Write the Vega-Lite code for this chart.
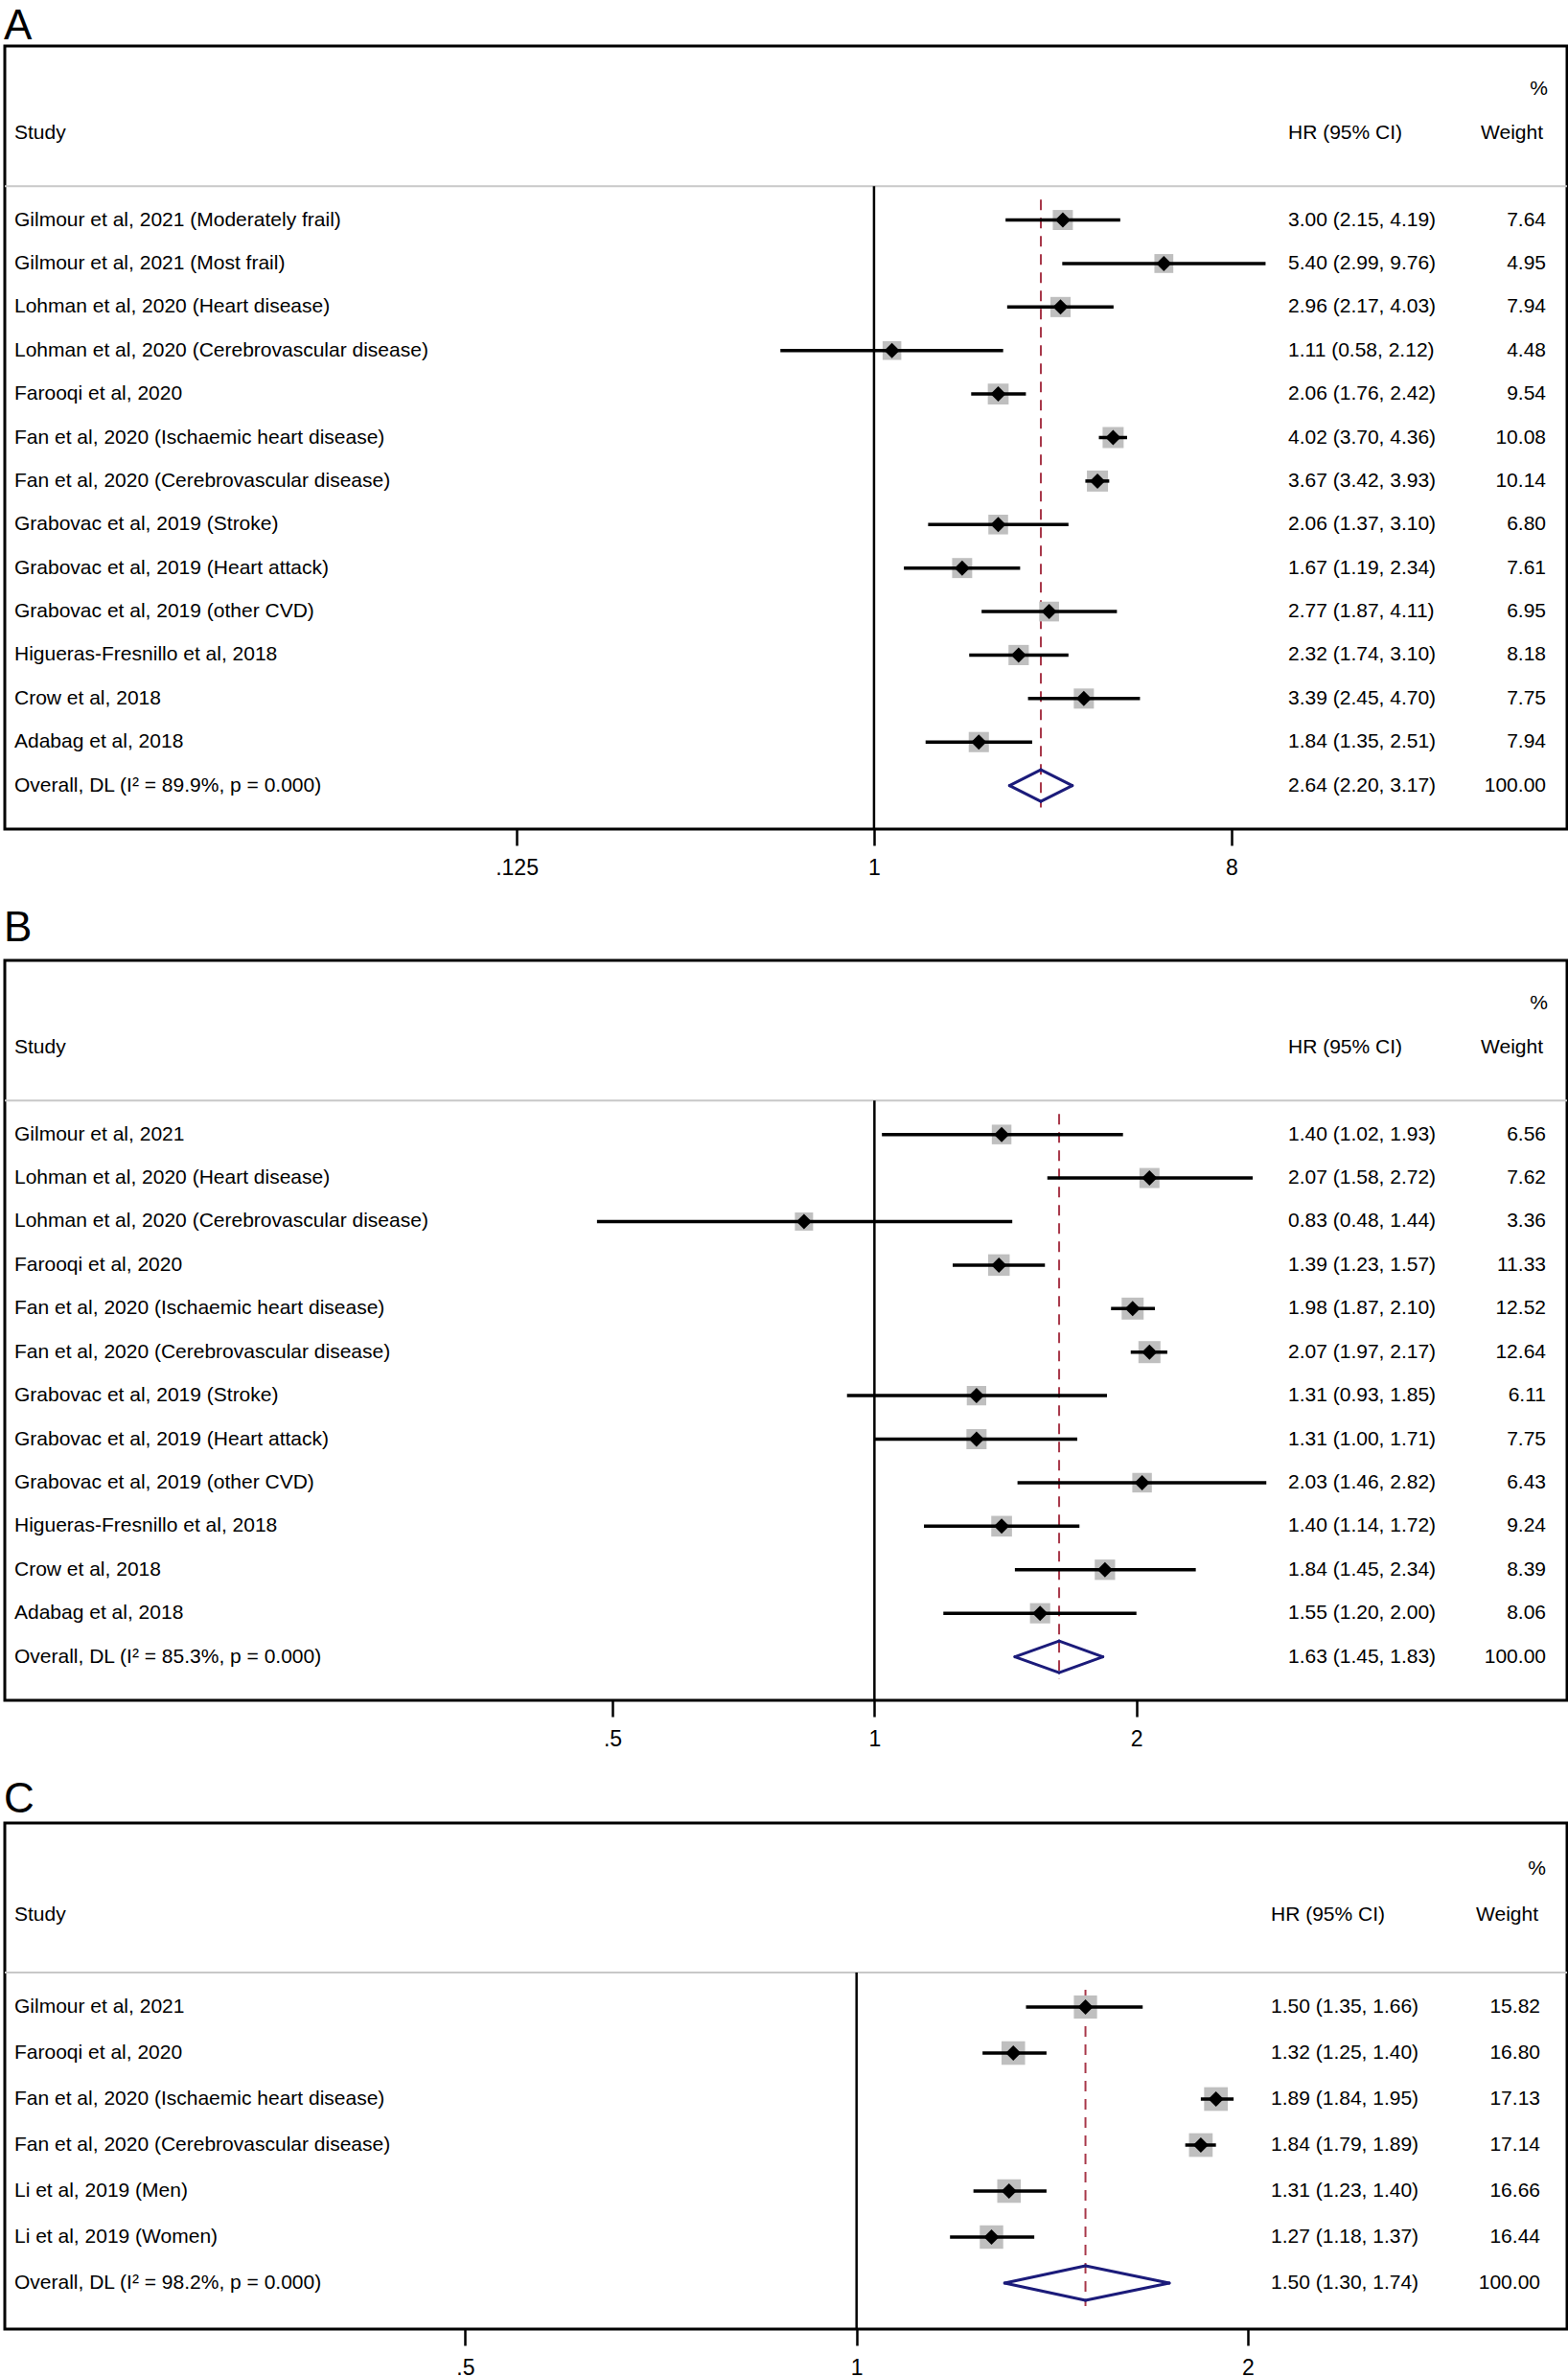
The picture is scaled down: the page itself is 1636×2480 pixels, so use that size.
{
 "$schema": "https://vega.github.io/schema/vega-lite/v6.json",
 "padding": {"left": 2, "right": 0, "top": 4, "bottom": 0},
 "background": "white",
 "spacing": 26,
 "config": {
  "view": {"stroke": "black", "strokeWidth": 3},
  "font": "Liberation Sans",
  "title": {"fontSize": 44, "font": "Liberation Sans", "fontWeight": "normal", "anchor": "start", "color": "black", "baseline": "bottom"},
  "axis": {"domain": false, "grid": false, "tickSize": 17, "tickWidth": 2.5, "tickColor": "black", "labelFontSize": 23, "labelColor": "black", "labelPadding": 12, "labelFont": "Liberation Sans", "labelFlush": false, "labelOverlap": false, "labelBound": false, "title": null, "labelExpr": "datum.value < 1 ? replace(toString(datum.value), '0.', '.') : toString(datum.value)"},
  "text": {"font": "Liberation Sans", "fontSize": 21, "color": "black", "baseline": "middle"}
 },
 "vconcat": [
  {
   "title": {"text": "A", "offset": -2},
   "width": 1630, "height": 817,
   "data": {"values": [
    {"study": "Gilmour et al, 2021 (Moderately frail)", "hr": 3.00, "lo": 2.15, "hi": 4.19, "w": 7.64, "ci": "3.00 (2.15, 4.19)", "type": "study"},
    {"study": "Gilmour et al, 2021 (Most frail)", "hr": 5.40, "lo": 2.99, "hi": 9.76, "w": 4.95, "ci": "5.40 (2.99, 9.76)", "type": "study"},
    {"study": "Lohman et al, 2020 (Heart disease)", "hr": 2.96, "lo": 2.17, "hi": 4.03, "w": 7.94, "ci": "2.96 (2.17, 4.03)", "type": "study"},
    {"study": "Lohman et al, 2020 (Cerebrovascular disease)", "hr": 1.11, "lo": 0.58, "hi": 2.12, "w": 4.48, "ci": "1.11 (0.58, 2.12)", "type": "study"},
    {"study": "Farooqi et al, 2020", "hr": 2.06, "lo": 1.76, "hi": 2.42, "w": 9.54, "ci": "2.06 (1.76, 2.42)", "type": "study"},
    {"study": "Fan et al, 2020 (Ischaemic heart  disease)", "hr": 4.02, "lo": 3.70, "hi": 4.36, "w": 10.08, "ci": "4.02 (3.70, 4.36)", "type": "study"},
    {"study": "Fan et al, 2020 (Cerebrovascular disease)", "hr": 3.67, "lo": 3.42, "hi": 3.93, "w": 10.14, "ci": "3.67 (3.42, 3.93)", "type": "study"},
    {"study": "Grabovac et al, 2019 (Stroke)", "hr": 2.06, "lo": 1.37, "hi": 3.10, "w": 6.80, "ci": "2.06 (1.37, 3.10)", "type": "study"},
    {"study": "Grabovac et al, 2019 (Heart attack)", "hr": 1.67, "lo": 1.19, "hi": 2.34, "w": 7.61, "ci": "1.67 (1.19, 2.34)", "type": "study"},
    {"study": "Grabovac et al, 2019 (other CVD)", "hr": 2.77, "lo": 1.87, "hi": 4.11, "w": 6.95, "ci": "2.77 (1.87, 4.11)", "type": "study"},
    {"study": "Higueras-Fresnillo et al, 2018", "hr": 2.32, "lo": 1.74, "hi": 3.10, "w": 8.18, "ci": "2.32 (1.74, 3.10)", "type": "study"},
    {"study": "Crow et al, 2018", "hr": 3.39, "lo": 2.45, "hi": 4.70, "w": 7.75, "ci": "3.39 (2.45, 4.70)", "type": "study"},
    {"study": "Adabag et al, 2018", "hr": 1.84, "lo": 1.35, "hi": 2.51, "w": 7.94, "ci": "1.84 (1.35, 2.51)", "type": "study"},
    {"study": "Overall, DL (I² = 89.9%, p = 0.000)", "hr": 2.64, "lo": 2.20, "hi": 3.17, "w": 100.00, "ci": "2.64 (2.20, 3.17)", "type": "overall"}
   ]},
   "layer": [
    {"data": {"values": [{}]}, "mark": {"type": "rule", "color": "#C8C8C8", "strokeWidth": 2, "yOffset": 10},
     "encoding": {"y": {"datum": "hdr3", "type": "nominal", "axis": null, "scale": {"type": "point", "padding": 1, "domain": ["hdr1", "hdr2", "hdr3", "Gilmour et al, 2021 (Moderately frail)", "Gilmour et al, 2021 (Most frail)", "Lohman et al, 2020 (Heart disease)", "Lohman et al, 2020 (Cerebrovascular disease)", "Farooqi et al, 2020", "Fan et al, 2020 (Ischaemic heart  disease)", "Fan et al, 2020 (Cerebrovascular disease)", "Grabovac et al, 2019 (Stroke)", "Grabovac et al, 2019 (Heart attack)", "Grabovac et al, 2019 (other CVD)", "Higueras-Fresnillo et al, 2018", "Crow et al, 2018", "Adabag et al, 2018", "Overall, DL (I² = 89.9%, p = 0.000)"]}}}},
    {"data": {"values": [{}]}, "mark": {"type": "rule", "color": "black", "strokeWidth": 2.5, "yOffset": 10, "y2Offset": 45.4},
     "encoding": {"x": {"datum": 1, "type": "quantitative", "scale": {"type": "log", "domain": [0.00636, 56.4], "nice": false}, "axis": {"values": [0.125, 1, 8]}}, "y": {"datum": "hdr3", "type": "nominal"}, "y2": {"datum": "Overall, DL (I² = 89.9%, p = 0.000)"}}},
    {"transform": [{"filter": "datum.type == 'overall'"}], "mark": {"type": "rule", "color": "#A8384A", "strokeWidth": 2, "strokeDash": [11, 8], "yOffset": 24, "y2Offset": 23},
     "encoding": {"x": {"field": "hr", "type": "quantitative"}, "y": {"datum": "hdr3", "type": "nominal"}, "y2": {"datum": "Overall, DL (I² = 89.9%, p = 0.000)"}}},
    {"transform": [{"filter": "datum.type == 'study'"}], "mark": {"type": "point", "shape": "square", "filled": true, "color": "#BFBFBF", "opacity": 1},
     "encoding": {"x": {"field": "hr", "type": "quantitative"}, "y": {"field": "study", "type": "nominal"}, "size": {"field": "w", "type": "quantitative", "scale": {"domain": [4.48, 10.14], "range": [361, 610], "zero": false}, "legend": null}}},
    {"transform": [{"filter": "datum.type == 'study'"}], "mark": {"type": "rule", "color": "black", "strokeWidth": 3.5},
     "encoding": {"x": {"field": "lo", "type": "quantitative"}, "x2": {"field": "hi"}, "y": {"field": "study", "type": "nominal"}}},
    {"transform": [{"filter": "datum.type == 'study'"}], "mark": {"type": "point", "shape": "diamond", "filled": true, "color": "black", "opacity": 1, "size": 256},
     "encoding": {"x": {"field": "hr", "type": "quantitative"}, "y": {"field": "study", "type": "nominal"}}},
    {"transform": [{"filter": "datum.type == 'overall'"}, {"fold": ["lo", "hi"], "as": ["edge", "xv"]}], "mark": {"type": "rule", "color": "#1B1B7A", "strokeWidth": 3, "strokeCap": "round", "y2Offset": -16.5},
     "encoding": {"x": {"field": "xv", "type": "quantitative"}, "x2": {"field": "hr"}, "y": {"field": "study", "type": "nominal"}, "y2": {"field": "study"}}},
    {"transform": [{"filter": "datum.type == 'overall'"}, {"fold": ["lo", "hi"], "as": ["edge", "xv"]}], "mark": {"type": "rule", "color": "#1B1B7A", "strokeWidth": 3, "strokeCap": "round", "y2Offset": 16.5},
     "encoding": {"x": {"field": "xv", "type": "quantitative"}, "x2": {"field": "hr"}, "y": {"field": "study", "type": "nominal"}, "y2": {"field": "study"}}},
    {"mark": {"type": "text", "align": "left"}, "encoding": {"x": {"value": 10}, "y": {"field": "study", "type": "nominal"}, "text": {"field": "study"}}},
    {"mark": {"type": "text", "align": "left"}, "encoding": {"x": {"value": 1339}, "y": {"field": "study", "type": "nominal"}, "text": {"field": "ci"}}},
    {"mark": {"type": "text", "align": "right"}, "encoding": {"x": {"value": 1608}, "y": {"field": "study", "type": "nominal"}, "text": {"field": "w", "type": "quantitative", "format": ".2f"}}},
    {"data": {"values": [{}]}, "mark": {"type": "text", "align": "left"}, "encoding": {"x": {"value": 10}, "y": {"datum": "hdr2", "type": "nominal"}, "text": {"value": "Study"}}},
    {"data": {"values": [{}]}, "mark": {"type": "text", "align": "left"}, "encoding": {"x": {"value": 1339}, "y": {"datum": "hdr2", "type": "nominal"}, "text": {"value": "HR (95% CI)"}}},
    {"data": {"values": [{}]}, "mark": {"type": "text", "align": "right"}, "encoding": {"x": {"value": 1605}, "y": {"datum": "hdr2", "type": "nominal"}, "text": {"value": "Weight"}}},
    {"data": {"values": [{}]}, "mark": {"type": "text", "align": "right"}, "encoding": {"x": {"value": 1610}, "y": {"datum": "hdr1", "type": "nominal"}, "text": {"value": "%"}}}
   ]
  },
  {
   "title": {"text": "B", "offset": 11},
   "width": 1630, "height": 772,
   "data": {"values": [
    {"study": "Gilmour et al, 2021", "hr": 1.40, "lo": 1.02, "hi": 1.93, "w": 6.56, "ci": "1.40 (1.02, 1.93)", "type": "study"},
    {"study": "Lohman et al, 2020 (Heart disease)", "hr": 2.07, "lo": 1.58, "hi": 2.72, "w": 7.62, "ci": "2.07 (1.58, 2.72)", "type": "study"},
    {"study": "Lohman et al, 2020 (Cerebrovascular disease)", "hr": 0.83, "lo": 0.48, "hi": 1.44, "w": 3.36, "ci": "0.83 (0.48, 1.44)", "type": "study"},
    {"study": "Farooqi et al, 2020", "hr": 1.39, "lo": 1.23, "hi": 1.57, "w": 11.33, "ci": "1.39 (1.23, 1.57)", "type": "study"},
    {"study": "Fan et al, 2020 (Ischaemic heart  disease)", "hr": 1.98, "lo": 1.87, "hi": 2.10, "w": 12.52, "ci": "1.98 (1.87, 2.10)", "type": "study"},
    {"study": "Fan et al, 2020 (Cerebrovascular disease)", "hr": 2.07, "lo": 1.97, "hi": 2.17, "w": 12.64, "ci": "2.07 (1.97, 2.17)", "type": "study"},
    {"study": "Grabovac et al, 2019 (Stroke)", "hr": 1.31, "lo": 0.93, "hi": 1.85, "w": 6.11, "ci": "1.31 (0.93, 1.85)", "type": "study"},
    {"study": "Grabovac et al, 2019 (Heart attack)", "hr": 1.31, "lo": 1.00, "hi": 1.71, "w": 7.75, "ci": "1.31 (1.00, 1.71)", "type": "study"},
    {"study": "Grabovac et al, 2019 (other CVD)", "hr": 2.03, "lo": 1.46, "hi": 2.82, "w": 6.43, "ci": "2.03 (1.46, 2.82)", "type": "study"},
    {"study": "Higueras-Fresnillo et al, 2018", "hr": 1.40, "lo": 1.14, "hi": 1.72, "w": 9.24, "ci": "1.40 (1.14, 1.72)", "type": "study"},
    {"study": "Crow et al, 2018", "hr": 1.84, "lo": 1.45, "hi": 2.34, "w": 8.39, "ci": "1.84 (1.45, 2.34)", "type": "study"},
    {"study": "Adabag et al, 2018", "hr": 1.55, "lo": 1.20, "hi": 2.00, "w": 8.06, "ci": "1.55 (1.20, 2.00)", "type": "study"},
    {"study": "Overall, DL (I² = 85.3%, p = 0.000)", "hr": 1.63, "lo": 1.45, "hi": 1.83, "w": 100.00, "ci": "1.63 (1.45, 1.83)", "type": "overall"}
   ]},
   "layer": [
    {"data": {"values": [{}]}, "mark": {"type": "rule", "color": "#C8C8C8", "strokeWidth": 2, "yOffset": 10},
     "encoding": {"y": {"datum": "hdr3", "type": "nominal", "axis": null, "scale": {"type": "point", "padding": 1, "domain": ["hdr1", "hdr2", "hdr3", "Gilmour et al, 2021", "Lohman et al, 2020 (Heart disease)", "Lohman et al, 2020 (Cerebrovascular disease)", "Farooqi et al, 2020", "Fan et al, 2020 (Ischaemic heart  disease)", "Fan et al, 2020 (Cerebrovascular disease)", "Grabovac et al, 2019 (Stroke)", "Grabovac et al, 2019 (Heart attack)", "Grabovac et al, 2019 (other CVD)", "Higueras-Fresnillo et al, 2018", "Crow et al, 2018", "Adabag et al, 2018", "Overall, DL (I² = 85.3%, p = 0.000)"]}}}},
    {"data": {"values": [{}]}, "mark": {"type": "rule", "color": "black", "strokeWidth": 2.5, "yOffset": 10, "y2Offset": 45.4},
     "encoding": {"x": {"datum": 1, "type": "quantitative", "scale": {"type": "log", "domain": [0.1002, 6.248], "nice": false}, "axis": {"values": [0.5, 1, 2]}}, "y": {"datum": "hdr3", "type": "nominal"}, "y2": {"datum": "Overall, DL (I² = 85.3%, p = 0.000)"}}},
    {"transform": [{"filter": "datum.type == 'overall'"}], "mark": {"type": "rule", "color": "#A8384A", "strokeWidth": 2, "strokeDash": [11, 8], "yOffset": 24, "y2Offset": 23},
     "encoding": {"x": {"field": "hr", "type": "quantitative"}, "y": {"datum": "hdr3", "type": "nominal"}, "y2": {"datum": "Overall, DL (I² = 85.3%, p = 0.000)"}}},
    {"transform": [{"filter": "datum.type == 'study'"}], "mark": {"type": "point", "shape": "square", "filled": true, "color": "#BFBFBF", "opacity": 1},
     "encoding": {"x": {"field": "hr", "type": "quantitative"}, "y": {"field": "study", "type": "nominal"}, "size": {"field": "w", "type": "quantitative", "scale": {"domain": [3.36, 12.64], "range": [361, 961], "zero": false}, "legend": null}}},
    {"transform": [{"filter": "datum.type == 'study'"}], "mark": {"type": "rule", "color": "black", "strokeWidth": 3.5},
     "encoding": {"x": {"field": "lo", "type": "quantitative"}, "x2": {"field": "hi"}, "y": {"field": "study", "type": "nominal"}}},
    {"transform": [{"filter": "datum.type == 'study'"}], "mark": {"type": "point", "shape": "diamond", "filled": true, "color": "black", "opacity": 1, "size": 256},
     "encoding": {"x": {"field": "hr", "type": "quantitative"}, "y": {"field": "study", "type": "nominal"}}},
    {"transform": [{"filter": "datum.type == 'overall'"}, {"fold": ["lo", "hi"], "as": ["edge", "xv"]}], "mark": {"type": "rule", "color": "#1B1B7A", "strokeWidth": 3, "strokeCap": "round", "y2Offset": -16.5},
     "encoding": {"x": {"field": "xv", "type": "quantitative"}, "x2": {"field": "hr"}, "y": {"field": "study", "type": "nominal"}, "y2": {"field": "study"}}},
    {"transform": [{"filter": "datum.type == 'overall'"}, {"fold": ["lo", "hi"], "as": ["edge", "xv"]}], "mark": {"type": "rule", "color": "#1B1B7A", "strokeWidth": 3, "strokeCap": "round", "y2Offset": 16.5},
     "encoding": {"x": {"field": "xv", "type": "quantitative"}, "x2": {"field": "hr"}, "y": {"field": "study", "type": "nominal"}, "y2": {"field": "study"}}},
    {"mark": {"type": "text", "align": "left"}, "encoding": {"x": {"value": 10}, "y": {"field": "study", "type": "nominal"}, "text": {"field": "study"}}},
    {"mark": {"type": "text", "align": "left"}, "encoding": {"x": {"value": 1339}, "y": {"field": "study", "type": "nominal"}, "text": {"field": "ci"}}},
    {"mark": {"type": "text", "align": "right"}, "encoding": {"x": {"value": 1608}, "y": {"field": "study", "type": "nominal"}, "text": {"field": "w", "type": "quantitative", "format": ".2f"}}},
    {"data": {"values": [{}]}, "mark": {"type": "text", "align": "left"}, "encoding": {"x": {"value": 10}, "y": {"datum": "hdr2", "type": "nominal"}, "text": {"value": "Study"}}},
    {"data": {"values": [{}]}, "mark": {"type": "text", "align": "left"}, "encoding": {"x": {"value": 1339}, "y": {"datum": "hdr2", "type": "nominal"}, "text": {"value": "HR (95% CI)"}}},
    {"data": {"values": [{}]}, "mark": {"type": "text", "align": "right"}, "encoding": {"x": {"value": 1605}, "y": {"datum": "hdr2", "type": "nominal"}, "text": {"value": "Weight"}}},
    {"data": {"values": [{}]}, "mark": {"type": "text", "align": "right"}, "encoding": {"x": {"value": 1610}, "y": {"datum": "hdr1", "type": "nominal"}, "text": {"value": "%"}}}
   ]
  },
  {
   "title": {"text": "C", "offset": 2},
   "width": 1630, "height": 528,
   "data": {"values": [
    {"study": "Gilmour et al, 2021", "hr": 1.50, "lo": 1.35, "hi": 1.66, "w": 15.82, "ci": "1.50 (1.35, 1.66)", "type": "study"},
    {"study": "Farooqi et al, 2020", "hr": 1.32, "lo": 1.25, "hi": 1.40, "w": 16.80, "ci": "1.32 (1.25, 1.40)", "type": "study"},
    {"study": "Fan et al, 2020 (Ischaemic heart  disease)", "hr": 1.89, "lo": 1.84, "hi": 1.95, "w": 17.13, "ci": "1.89 (1.84, 1.95)", "type": "study"},
    {"study": "Fan et al, 2020 (Cerebrovascular disease)", "hr": 1.84, "lo": 1.79, "hi": 1.89, "w": 17.14, "ci": "1.84 (1.79, 1.89)", "type": "study"},
    {"study": "Li et al, 2019 (Men)", "hr": 1.31, "lo": 1.23, "hi": 1.40, "w": 16.66, "ci": "1.31 (1.23, 1.40)", "type": "study"},
    {"study": "Li et al, 2019 (Women)", "hr": 1.27, "lo": 1.18, "hi": 1.37, "w": 16.44, "ci": "1.27 (1.18, 1.37)", "type": "study"},
    {"study": "Overall, DL (I² = 98.2%, p = 0.000)", "hr": 1.50, "lo": 1.30, "hi": 1.74, "w": 100.00, "ci": "1.50 (1.30, 1.74)", "type": "overall"}
   ]},
   "layer": [
    {"data": {"values": [{}]}, "mark": {"type": "rule", "color": "#C8C8C8", "strokeWidth": 2, "yOffset": 12},
     "encoding": {"y": {"datum": "hdr3", "type": "nominal", "axis": null, "scale": {"type": "point", "padding": 1, "domain": ["hdr1", "hdr2", "hdr3", "Gilmour et al, 2021", "Farooqi et al, 2020", "Fan et al, 2020 (Ischaemic heart  disease)", "Fan et al, 2020 (Cerebrovascular disease)", "Li et al, 2019 (Men)", "Li et al, 2019 (Women)", "Overall, DL (I² = 98.2%, p = 0.000)"]}}}},
    {"data": {"values": [{}]}, "mark": {"type": "rule", "color": "black", "strokeWidth": 2.5, "yOffset": 12, "y2Offset": 48},
     "encoding": {"x": {"datum": 1, "type": "quantitative", "scale": {"type": "log", "domain": [0.2212, 3.52], "nice": false}, "axis": {"values": [0.5, 1, 2]}}, "y": {"datum": "hdr3", "type": "nominal"}, "y2": {"datum": "Overall, DL (I² = 98.2%, p = 0.000)"}}},
    {"transform": [{"filter": "datum.type == 'overall'"}], "mark": {"type": "rule", "color": "#A8384A", "strokeWidth": 2, "strokeDash": [11, 8], "yOffset": 30, "y2Offset": 24},
     "encoding": {"x": {"field": "hr", "type": "quantitative"}, "y": {"datum": "hdr3", "type": "nominal"}, "y2": {"datum": "Overall, DL (I² = 98.2%, p = 0.000)"}}},
    {"transform": [{"filter": "datum.type == 'study'"}], "mark": {"type": "point", "shape": "square", "filled": true, "color": "#BFBFBF", "opacity": 1},
     "encoding": {"x": {"field": "hr", "type": "quantitative"}, "y": {"field": "study", "type": "nominal"}, "size": {"field": "w", "type": "quantitative", "scale": {"domain": [15.82, 17.14], "range": [300, 340], "zero": false}, "legend": null}}},
    {"transform": [{"filter": "datum.type == 'study'"}], "mark": {"type": "rule", "color": "black", "strokeWidth": 3.5},
     "encoding": {"x": {"field": "lo", "type": "quantitative"}, "x2": {"field": "hi"}, "y": {"field": "study", "type": "nominal"}}},
    {"transform": [{"filter": "datum.type == 'study'"}], "mark": {"type": "point", "shape": "diamond", "filled": true, "color": "black", "opacity": 1, "size": 256},
     "encoding": {"x": {"field": "hr", "type": "quantitative"}, "y": {"field": "study", "type": "nominal"}}},
    {"transform": [{"filter": "datum.type == 'overall'"}, {"fold": ["lo", "hi"], "as": ["edge", "xv"]}], "mark": {"type": "rule", "color": "#1B1B7A", "strokeWidth": 3, "strokeCap": "round", "y2Offset": -18},
     "encoding": {"x": {"field": "xv", "type": "quantitative"}, "x2": {"field": "hr"}, "y": {"field": "study", "type": "nominal"}, "y2": {"field": "study"}}},
    {"transform": [{"filter": "datum.type == 'overall'"}, {"fold": ["lo", "hi"], "as": ["edge", "xv"]}], "mark": {"type": "rule", "color": "#1B1B7A", "strokeWidth": 3, "strokeCap": "round", "y2Offset": 18},
     "encoding": {"x": {"field": "xv", "type": "quantitative"}, "x2": {"field": "hr"}, "y": {"field": "study", "type": "nominal"}, "y2": {"field": "study"}}},
    {"mark": {"type": "text", "align": "left"}, "encoding": {"x": {"value": 10}, "y": {"field": "study", "type": "nominal"}, "text": {"field": "study"}}},
    {"mark": {"type": "text", "align": "left"}, "encoding": {"x": {"value": 1321}, "y": {"field": "study", "type": "nominal"}, "text": {"field": "ci"}}},
    {"mark": {"type": "text", "align": "right"}, "encoding": {"x": {"value": 1602}, "y": {"field": "study", "type": "nominal"}, "text": {"field": "w", "type": "quantitative", "format": ".2f"}}},
    {"data": {"values": [{}]}, "mark": {"type": "text", "align": "left"}, "encoding": {"x": {"value": 10}, "y": {"datum": "hdr2", "type": "nominal"}, "text": {"value": "Study"}}},
    {"data": {"values": [{}]}, "mark": {"type": "text", "align": "left"}, "encoding": {"x": {"value": 1321}, "y": {"datum": "hdr2", "type": "nominal"}, "text": {"value": "HR (95% CI)"}}},
    {"data": {"values": [{}]}, "mark": {"type": "text", "align": "right"}, "encoding": {"x": {"value": 1600}, "y": {"datum": "hdr2", "type": "nominal"}, "text": {"value": "Weight"}}},
    {"data": {"values": [{}]}, "mark": {"type": "text", "align": "right"}, "encoding": {"x": {"value": 1608}, "y": {"datum": "hdr1", "type": "nominal"}, "text": {"value": "%"}}}
   ]
  }
 ]
}
